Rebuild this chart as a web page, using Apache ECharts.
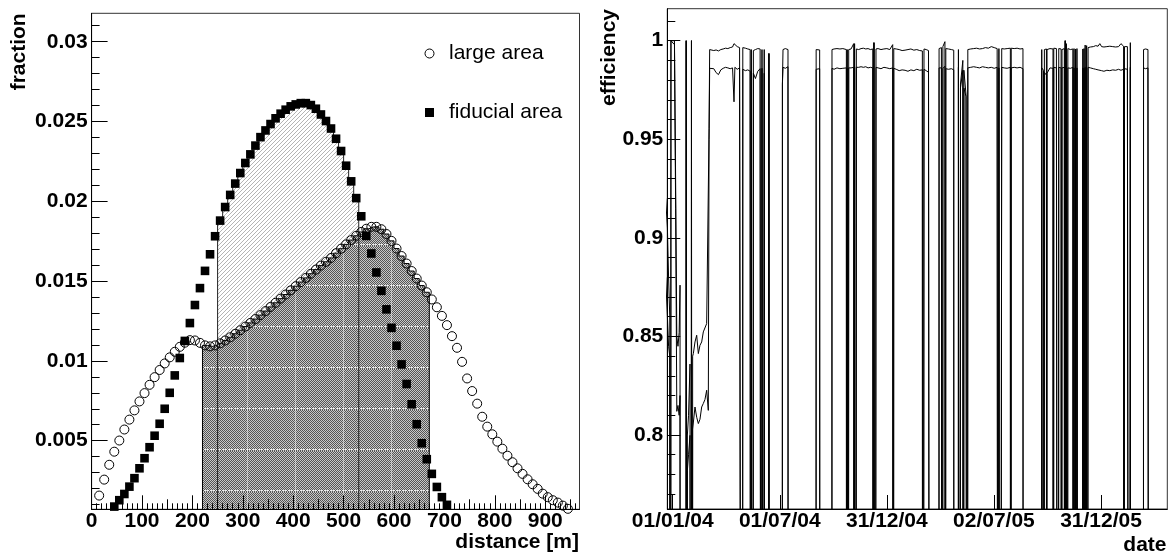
<!DOCTYPE html>
<html>
<head>
<meta charset="utf-8">
<title>chart</title>
<script src="https://cdn.jsdelivr.net/npm/echarts@6.0.0/dist/echarts.min.js"></script>
<style>
html,body{margin:0;padding:0;background:#ffffff;}
#chart{width:1168px;height:554px;}
</style>
</head>
<body>
<div id="chart"></div>
<script>
// ---------------- left panel: distance distributions ----------------
const binWidth = 10;
const largeAreaFirstBin = 15;
const largeArea = [
  0.00156,0.00256,0.00349,0.00431,0.00501,0.0057,0.00632,0.0069,0.00746,0.00798,
  0.0085,0.00898,0.00943,0.00984,0.01022,0.01057,0.01088,0.01114,0.0113,0.01128,
  0.01113,0.01097,0.01091,0.01097,0.0111,0.01128,0.01148,0.0117,0.01192,0.01215,
  0.01238,0.01262,0.01287,0.01312,0.01338,0.01364,0.0139,0.01416,0.01442,0.01468,
  0.01494,0.0152,0.01546,0.01572,0.01597,0.01621,0.01645,0.01675,0.01703,0.0173,
  0.01757,0.01784,0.01808,0.01828,0.0184,0.0184,0.01825,0.01795,0.01752,0.01704,
  0.01657,0.0161,0.01563,0.01516,0.01472,0.0143,0.01385,0.01336,0.01282,0.01224,
  0.01155,0.01082,0.00994,0.0089,0.00811,0.00732,0.0065,0.00588,0.0054,0.00494,
  0.0045,0.00406,0.00365,0.00327,0.00292,0.00258,0.00227,0.00198,0.00168,0.00146,
  0.00127,0.00112,0.00093,0.00073
];
const fiducialFirstBin = 45;
const fiducialArea = [
  0.00087,0.00127,0.00166,0.00212,0.00265,0.00327,0.0039,0.00459,0.00531,0.00606,
  0.0070,0.0080,0.00909,0.01018,0.01125,0.01237,0.0135,0.01456,0.01564,0.01668,
  0.01781,0.01879,0.01964,0.0204,0.02111,0.02177,0.0224,0.02294,0.02349,0.02402,
  0.02444,0.02484,0.0252,0.02549,0.02574,0.02595,0.02607,0.02615,0.02615,0.02603,
  0.0258,0.02544,0.02503,0.02456,0.02392,0.02315,0.02223,0.02125,0.0202,0.01906,
  0.01783,0.01673,0.01554,0.01439,0.01323,0.01207,0.01095,0.00978,0.00855,0.00728,
  0.00603,0.00484,0.00384,0.00292,0.0021,0.00146,0.00098
];
const hatchRange = [250, 530];   // fiducial histogram, hatched part
const shadeRange = [220, 670];   // large-area histogram, dark part
const distanceTicks = [0,100,200,300,400,500,600,700,800,900];
const fractionTicks = [0.005,0.01,0.015,0.02,0.025,0.03];
const legendNames = ['large area','fiducial area'];

// ---------------- right panel: efficiency vs date (days since 01/01/04) ----------------
const dateTickDays = [0,182.5,365,547.5,730];
const dateTickLabels = ['01/01/04','01/07/04','31/12/04','02/07/05','31/12/05'];
const efficiencyTicks = [0.8,0.85,0.9,0.95,1];
const effDays = [
  -12,-9,-7,-5,-4,-3,3,5,7,9,11,12.5,13,22,23,24.5,25,27,29.5,31,32,33,34,35.2,38,40.9,43.7,46.5,49.4,52.2,55,57.9,60.7,62,
  63,66,70,74,78,82,86,90,94,98,102,104.5,106,110,114,117,118.6,119.5,124,128,132,133,134,136.5,137.5,141,145,149,151.2,152.2,155.2,156,157.5,
  163.5,164,164.5,186.5,187,188,192,196.5,197,244,244.5,250.5,251,
  271,271.5,275,280,285,290,296,296.6,297.5,299,300,304,308.5,309,310,312,313,317,321,325,329,333,337,341,342,343,345,346.5,350,355,360,365,370,375,375.8,376.8,381,386,391,396,401,406,411,416,421,425.5,426.3,427.5,428.3,432,436,438.6,439,
  453.5,454,458,459.5,460.5,464,464.5,465.5,470,475,479,479.5,
  486.5,487,489.5,490.5,494.5,495.3,496.3,500,502,503,508,513,518,523,528,533,538,543,548,553,555,556,557.5,559.5,560.8,565,570,575.5,576,577,582,587,592,597,597.6,
  628.5,629,632,632.7,633.5,637,637.3,638,643,648.2,648.7,649.5,654,656.5,657,658,662,662.6,663.5,667.5,668,669,670,671,672.5,673.5,678,682,682.8,684,685,686.5,687.5,689,690.5,691.3,
  698.5,699,700,701,702,703,704,705.5,706.5,708,712,717,721,725,728,731,735,740,745,750,755,760,764,768.5,769,770,775,778,778.5,780,780.6,802,802.5,806,810,812,850
];
const effUpper = [
  .92,.905,.88,.86,0,1,1,.928,.85,.845,.852,.876,0,0,1,0,.8,.81,.836,0,1,0,.84,.8413,.8472,.8506,.8413,.8455,.8472,.8523,.852,.8565,.8574,.9555,
  .9955,.9958,.995,.9953,.9948,.9955,.9958,.9962,.996,.9965,.9968,.9985,.9975,.997,.9965,.9968,0,.9965,.9962,.9958,.9955,0,.9955,0,.995,.9955,.996,.9958,0,.9955,0,.9955,0,
  0,.9935,0,0,.978,.9955,.996,.9955,0,0,.9955,.9953,0,
  0,.9955,.9958,.996,.9958,.996,.9955,0,.9955,0,.9955,.9958,.9985,0,.9985,0,.9958,.9955,.996,.9962,.9958,.996,.9955,.9958,0,.999,0,.9958,.996,.9955,.9958,.996,.9955,.998,0,.996,.9958,.9955,.995,.9952,.9955,.9958,.9952,.9955,.995,.9948,0,0,.9958,.9955,.995,.9948,0,
  0,.996,.9965,0,.997,.9995,0,.996,.9958,.9955,.9952,0,
  0,.9955,0,.978,.99,0,.985,.9725,0,.9955,.9958,.996,.9962,.9958,.996,.9965,.9962,.997,.9965,.996,0,.996,0,0,.996,.9958,.996,.9962,0,.9962,.996,.9962,.9958,.996,0,
  0,.9955,.9958,0,.9955,.9958,0,.9955,.996,.9958,0,.9962,.996,.9958,0,.996,.9958,0,.9955,.996,0,1,0,.9985,0,.996,.9955,.9958,0,.996,0,.9958,0,.996,.9958,0,
  0,.9958,0,.996,0,.9978,0,.9975,0,.9965,.9968,.997,.9975,.9972,.9985,.997,.9968,.997,.9972,.997,.9968,.997,.9985,.9972,0,.997,.997,.9975,0,.999,0,0,.9955,.9958,.9955,0,0
];
const effLower = [
  .88,.86,.845,.84,0,1,.998,.915,.812,.815,.81,.82,0,0,1,0,.782,.79,.7998,0,1,0,.803,.804,.8142,.809,.8058,.808,.8142,.816,.818,.8227,.8125,.95,
  .986,.9862,.9858,.9838,.9828,.9852,.986,.9865,.9862,.9858,.9862,.969,.9865,.9855,.9862,.986,0,.9855,.9848,.9852,.9845,0,.985,0,.9835,.9808,.9845,.9858,0,.986,0,.9835,0,
  0,.9935,0,0,.978,.9865,.986,.9868,0,0,.9855,.9858,0,
  0,.986,.9855,.9862,.9858,.986,.9862,0,.986,0,.9862,.9862,.9865,0,.9868,0,.9865,.9865,.9868,.9865,.9868,.9862,.9865,.9862,0,.999,0,.9865,.9862,.9858,.9865,.9862,.9858,.9862,0,.986,.9855,.9848,.9852,.985,.9845,.9852,.9848,.9855,.985,.9852,0,0,.9855,.9848,.984,.983,0,
  0,.9862,.9862,0,.986,.987,0,.9858,.9855,.9858,.9852,0,
  0,.9865,0,.976,.985,0,.976,.9716,0,.9862,.9865,.9868,.9865,.9862,.9868,.9865,.9862,.9865,.986,.9865,0,.9862,0,0,.9865,.9862,.986,.9865,0,.9862,.9865,.9862,.9865,.9858,0,
  0,.9862,.985,0,.984,.9825,0,.9835,.9862,.986,0,.9865,.9862,.9862,0,.9865,.9862,0,.9862,.9865,0,1,0,.987,0,.9862,.986,.9865,0,.9862,0,.9865,0,.9862,.986,0,
  0,.9862,0,.986,0,.9865,0,.9862,0,.9865,.9862,.9858,.9855,.9852,.9862,.9848,.9845,.985,.9848,.9852,.985,.9855,.985,.9855,0,.9858,.9855,.9858,0,.9865,0,0,.9862,.9858,.9862,0,0
];

// ---------------- helpers ----------------
const FONT = '"Liberation Sans", Arial, Helvetica, sans-serif';

function points(firstBin, values) {
  return values.map((v, i) => [firstBin + i * binWidth, v]);
}
function stepOutline(firstBin, values, range) {
  const pts = [[range[0], 0]];
  values.forEach((v, i) => {
    const c = firstBin + i * binWidth;
    const a = c - binWidth / 2, b = c + binWidth / 2;
    if (a >= range[0] - 1e-9 && b <= range[1] + 1e-9) { pts.push([a, v], [b, v]); }
  });
  pts.push([range[1], 0]);
  return pts;
}
function hatchPattern() {
  const c = document.createElement('canvas');
  c.width = 4; c.height = 4;
  const g = c.getContext('2d');
  g.fillStyle = '#b4b4b4';
  for (let i = 0; i < 4; i++) g.fillRect(i, 3 - i, 1, 1);
  return c;
}
function stipplePattern() {
  const W = 48, H = 41;
  const c = document.createElement('canvas');
  c.width = W; c.height = H;
  const g = c.getContext('2d');
  const img = g.createImageData(W, H);
  for (let y = 0; y < H; y++) {
    for (let x = 0; x < W; x++) {
      let v = ((x + y) % 2 === 0) ? 85 : 200;
      if (x === 7) v = ((x + y) % 2 === 0) ? 160 : 225;
      if (y === 39 && x % 3 !== 2) v = 240;
      const k = (y * W + x) * 4;
      img.data[k] = v; img.data[k + 1] = v; img.data[k + 2] = v; img.data[k + 3] = 255;
    }
  }
  g.putImageData(img, 0, 0);
  return c;
}
function range(from, to, step, skipEvery) {
  const out = [];
  for (let k = from; k <= to; k += step) {
    if (skipEvery && k % skipEvery === 0) continue;
    out.push(k);
  }
  return out;
}

const labelStyle = { fontSize: 21, fontWeight: 'bold', color: '#000', fontFamily: FONT };
const blackLine = { color: '#000', width: 1 };

function tickAxis(base, values, len, showLine) {
  return Object.assign({
    type: 'value', z: 10, scale: true,
    axisLine: { show: !!showLine, onZero: false, lineStyle: blackLine },
    axisTick: { show: true, inside: true, length: len, customValues: values, lineStyle: blackLine },
    axisLabel: { show: false },
    splitLine: { show: false }, minorTick: { show: false }
  }, base);
}

// left x axes
const xLeft = { gridIndex: 0, min: 0, max: 968, position: 'bottom' };
const xAxes = [
  Object.assign(tickAxis(xLeft, distanceTicks, 14, true), {
    axisLabel: Object.assign({ show: true, customValues: distanceTicks, margin: 1 }, labelStyle)
  }),
  tickAxis(xLeft, range(50, 950, 100), 10, false),
  tickAxis(xLeft, range(10, 960, 10, 50), 6, false)
];
// right x axis
const xRight = { gridIndex: 1, min: -9.2, max: 843, position: 'bottom' };
xAxes.push(Object.assign(tickAxis(xRight, dateTickDays, 14, true), {
  axisLabel: Object.assign({
    show: true, customValues: dateTickDays, margin: 2,
    formatter: function (v) {
      const i = dateTickDays.findIndex(d => Math.abs(d - v) < 1e-6);
      return i >= 0 ? dateTickLabels[i] : '';
    }
  }, labelStyle)
}));

// y axes
const yLeft = { gridIndex: 0, min: 0.0007, max: 0.03178, position: 'left' };
const yRight = { gridIndex: 1, min: 0.76247, max: 1.01623, position: 'left' };
const yAxes = [
  Object.assign(tickAxis(yLeft, fractionTicks, 16, true), {
    axisLabel: Object.assign({ show: true, customValues: fractionTicks, margin: 4 }, labelStyle)
  }),
  tickAxis(yLeft, range(1, 31, 1, 5).map(k => k / 1000), 8, false),
  Object.assign(tickAxis(yRight, efficiencyTicks, 13, true), {
    axisLabel: Object.assign({ show: true, customValues: efficiencyTicks, margin: 4 }, labelStyle)
  }),
  tickAxis(yRight, range(77, 101, 1, 5).map(k => k / 100), 8, false)
];

const hatch = hatchPattern();
const stipple = stipplePattern();

const option = {
  animation: false,
  backgroundColor: '#ffffff',
  grid: [
    { left: 91.6, right: 588.5, top: 13.3, bottom: 44.7, show: true, borderColor: '#333', borderWidth: 1, backgroundColor: 'transparent', containLabel: false, outerBoundsMode: 'none' },
    { left: 667.3, right: 0.7, top: 8.7, bottom: 45, show: true, borderColor: '#333', borderWidth: 1, backgroundColor: 'transparent', containLabel: false, outerBoundsMode: 'none' }
  ],
  xAxis: xAxes,
  yAxis: yAxes,
  legend: {
    data: [
      { name: legendNames[0], icon: 'circle', itemStyle: { color: '#fff', borderColor: '#000', borderWidth: 1, opacity: 1 } },
      { name: legendNames[1], icon: 'rect', itemStyle: { color: '#000', opacity: 1 } }
    ],
    orient: 'vertical', left: 419.5, top: 38, itemWidth: 9, itemHeight: 9, itemGap: 38,
    selectedMode: false,
    textStyle: { fontSize: 21, color: '#000', fontFamily: FONT, padding: [0, 0, 0, 10] }
  },
  graphic: [
    { type: 'text', x: 19, y: 13.3, rotation: Math.PI / 2, style: { text: 'fraction', align: 'right', verticalAlign: 'middle', font: 'bold 21px ' + FONT, fill: '#000' } },
    { type: 'text', x: 579, y: 542, style: { text: 'distance [m]', align: 'right', verticalAlign: 'middle', font: 'bold 21px ' + FONT, fill: '#000' } },
    { type: 'text', x: 609, y: 9, rotation: Math.PI / 2, style: { text: 'efficiency', align: 'right', verticalAlign: 'middle', font: 'bold 21px ' + FONT, fill: '#000' } },
    { type: 'text', x: 1166.5, y: 545.5, style: { text: 'date', align: 'right', verticalAlign: 'middle', font: 'bold 21px ' + FONT, fill: '#000' } }
  ],
  series: [
    { name: 'fiducial hatch', type: 'line', xAxisIndex: 0, yAxisIndex: 0, z: 1, silent: true,
      data: stepOutline(fiducialFirstBin, fiducialArea, hatchRange), showSymbol: false, symbol: 'none',
      lineStyle: { width: 0, opacity: 0 }, areaStyle: { color: { image: hatch, repeat: 'repeat' }, opacity: 1, origin: 'start' } },
    { name: 'large shade', type: 'line', xAxisIndex: 0, yAxisIndex: 0, z: 2, silent: true,
      data: stepOutline(largeAreaFirstBin, largeArea, shadeRange), showSymbol: false, symbol: 'none',
      lineStyle: { color: '#000', width: 1 }, areaStyle: { color: { image: stipple, repeat: 'repeat' }, opacity: 1, origin: 'start' } },
    { name: 'fiducial outline', type: 'line', xAxisIndex: 0, yAxisIndex: 0, z: 3, silent: true,
      data: stepOutline(fiducialFirstBin, fiducialArea, hatchRange), showSymbol: false, symbol: 'none',
      lineStyle: { color: '#222', width: 1 } },
    { name: legendNames[0], type: 'scatter', xAxisIndex: 0, yAxisIndex: 0, z: 4,
      data: points(largeAreaFirstBin, largeArea), symbol: 'circle', symbolSize: 9,
      itemStyle: { color: 'rgba(0,0,0,0)', borderColor: '#000', borderWidth: 1, opacity: 1 } },
    { name: legendNames[1], type: 'scatter', xAxisIndex: 0, yAxisIndex: 0, z: 5,
      data: points(fiducialFirstBin, fiducialArea), symbol: 'rect', symbolSize: 8.6,
      itemStyle: { color: '#000', opacity: 1 } },
    { name: 'efficiency upper', type: 'line', xAxisIndex: 3, yAxisIndex: 2, z: 2, silent: true,
      data: effDays.map((d, i) => [d, effUpper[i]]), showSymbol: false, symbol: 'none', clip: true,
      lineStyle: { color: '#000', width: 1 } },
    { name: 'efficiency lower', type: 'line', xAxisIndex: 3, yAxisIndex: 2, z: 2, silent: true,
      data: effDays.map((d, i) => [d, effLower[i]]), showSymbol: false, symbol: 'none', clip: true,
      lineStyle: { color: '#000', width: 1 } }
  ]
};

const chart = echarts.init(document.getElementById('chart'), null, { renderer: 'canvas' });
chart.setOption(option);
</script>
</body>
</html>
